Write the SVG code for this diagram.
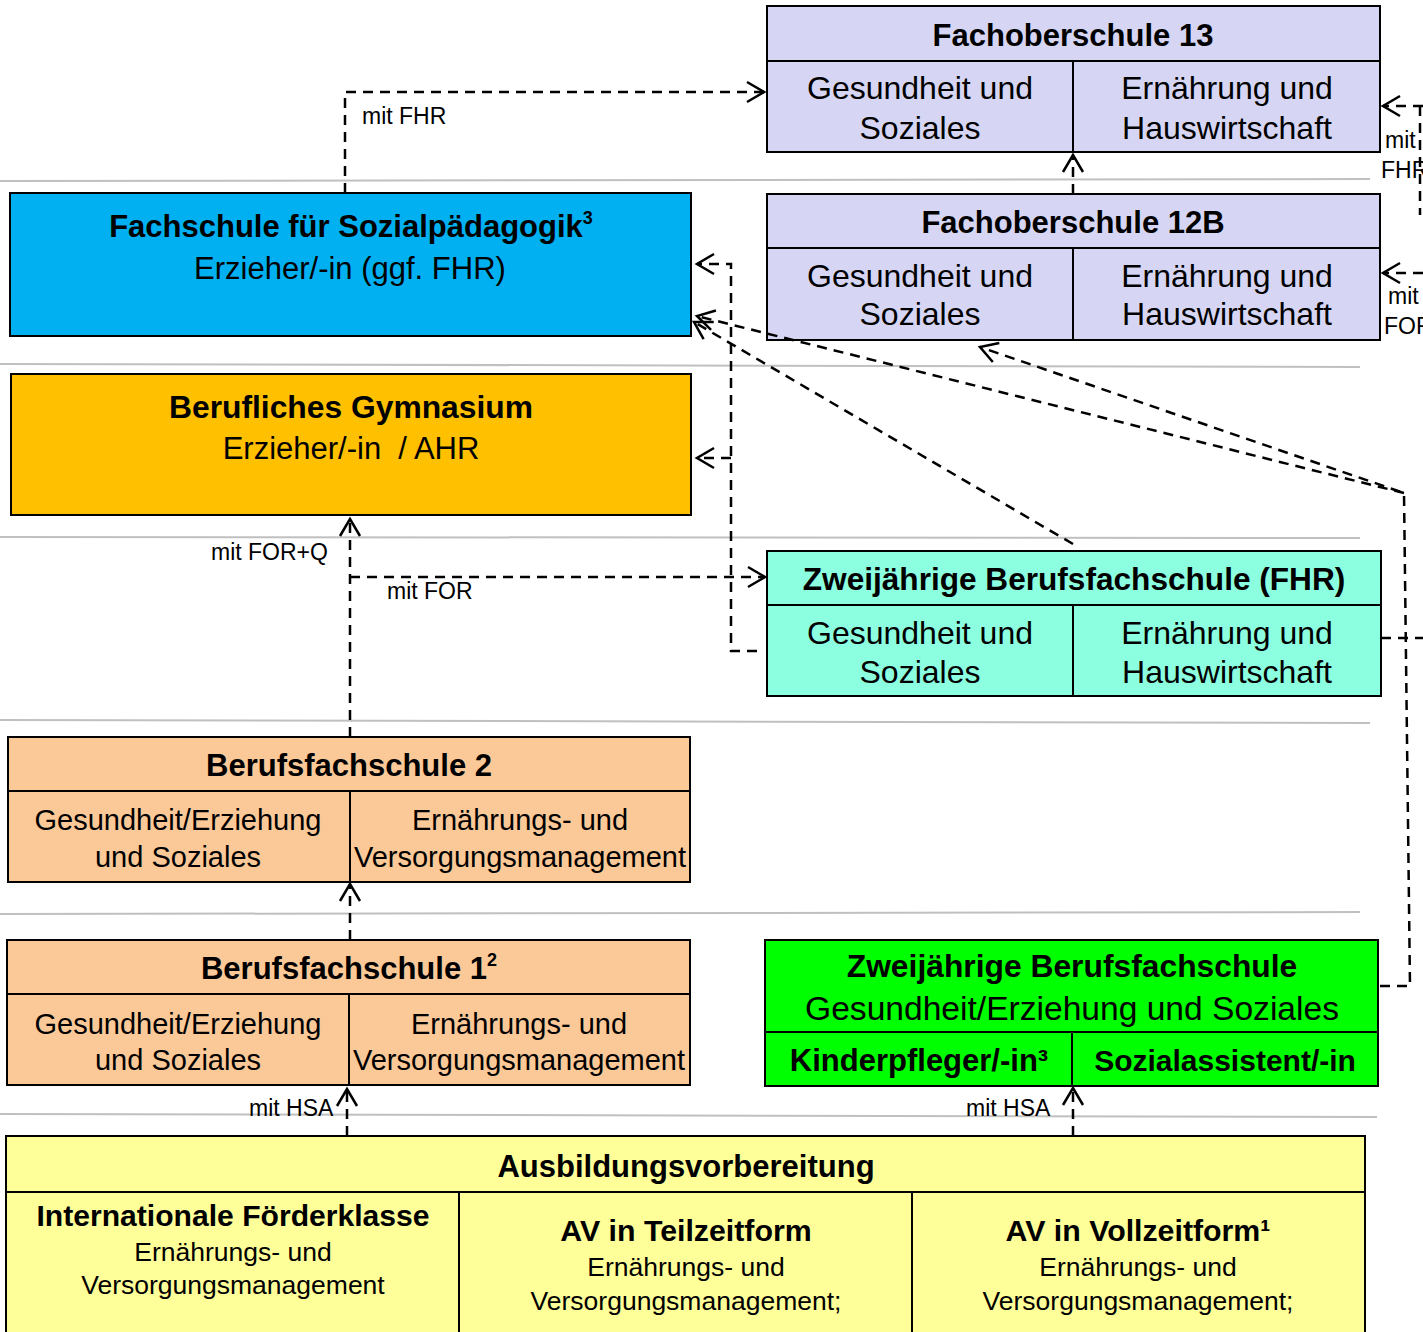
<svg xmlns="http://www.w3.org/2000/svg" width="1423" height="1332" viewBox="0 0 1423 1332">
<style>
text{font-family:"Liberation Sans",Arial,sans-serif;fill:#000}
.t{font-size:31px;font-weight:bold;text-anchor:middle}
.s{font-size:31px;text-anchor:middle}
.f{font-size:32px;text-anchor:middle}
.c{font-size:29px;text-anchor:middle}
.m{font-size:26.5px;text-anchor:middle}
.l{font-size:23px}
.box{stroke:#000;stroke-width:2}
.div{stroke:#000;stroke-width:2;fill:none}
.sep{stroke:#C0C0C0;stroke-width:2;fill:none}
.con{stroke:#000;stroke-width:2.5;fill:none;stroke-dasharray:10 7}
</style>
<defs>
<marker id="ar" markerUnits="userSpaceOnUse" markerWidth="24" markerHeight="26" refX="20" refY="13" orient="auto">
<path d="M3,3 L20,13 L3,23" fill="none" stroke="#000" stroke-width="2.5"/>
</marker>
</defs>
<g id="separators">
<line class="sep" x1="0" y1="181" x2="1370" y2="179"/>
<line class="sep" x1="0" y1="364" x2="1360" y2="367"/>
<line class="sep" x1="0" y1="537" x2="1360" y2="538"/>
<line class="sep" x1="0" y1="720" x2="1370" y2="723"/>
<line class="sep" x1="0" y1="914" x2="1360" y2="912"/>
<line class="sep" x1="0" y1="1114" x2="1377" y2="1117"/>
</g>
<g id="fos13">
<rect class="box" x="767" y="6" width="613" height="146" fill="#D6D6F4"/>
<path class="div" d="M767,61 H1380 M1073,61 V152"/>
<text class="t" x="1073" y="46">Fachoberschule 13</text>
<text class="f" x="920" y="99">Gesundheit und</text>
<text class="f" x="920" y="139">Soziales</text>
<text class="f" x="1227" y="99">Ernährung und</text>
<text class="f" x="1227" y="139">Hauswirtschaft</text>
</g>
<g id="fos12b">
<rect class="box" x="767" y="194" width="613" height="146" fill="#D6D6F4"/>
<path class="div" d="M767,248 H1380 M1073,248 V340"/>
<text class="t" x="1073" y="233">Fachoberschule 12B</text>
<text class="f" x="920" y="287">Gesundheit und</text>
<text class="f" x="920" y="325">Soziales</text>
<text class="f" x="1227" y="287">Ernährung und</text>
<text class="f" x="1227" y="325">Hauswirtschaft</text>
</g>
<g id="fachschule">
<rect class="box" x="10" y="193" width="681" height="143" fill="#00B0F0"/>
<text class="t" x="351" y="237">Fachschule für Sozialpädagogik<tspan font-size="18" dy="-13">3</tspan></text>
<text class="s" x="350" y="279">Erzieher/-in (ggf. FHR)</text>
</g>
<g id="gymnasium">
<rect class="box" x="11" y="374" width="680" height="141" fill="#FFC000"/>
<text class="t" x="351" y="418" style="font-size:31.8px">Berufliches Gymnasium</text>
<text class="s" x="351" y="459" xml:space="preserve">Erzieher/-in  / AHR</text>
</g>
<g id="bfs-fhr">
<rect class="box" x="767" y="551" width="614" height="145" fill="#8CFFE0"/>
<path class="div" d="M767,605 H1381 M1073,605 V696"/>
<text class="t" x="1074" y="590" style="font-size:31.6px">Zweijährige Berufsfachschule (FHR)</text>
<text class="f" x="920" y="644">Gesundheit und</text>
<text class="f" x="920" y="683">Soziales</text>
<text class="f" x="1227" y="644">Ernährung und</text>
<text class="f" x="1227" y="683">Hauswirtschaft</text>
</g>
<g id="bfs2">
<rect class="box" x="8" y="737" width="682" height="145" fill="#FBC998"/>
<path class="div" d="M8,791 H690 M350,791 V882"/>
<text class="t" x="349" y="776">Berufsfachschule 2</text>
<text class="c" x="178" y="830">Gesundheit/Erziehung</text>
<text class="c" x="178" y="867">und Soziales</text>
<text class="c" x="520" y="830">Ernährungs- und</text>
<text class="c" x="520" y="867">Versorgungsmanagement</text>
</g>
<g id="bfs1">
<rect class="box" x="7" y="940" width="683" height="145" fill="#FBC998"/>
<path class="div" d="M7,994 H690 M349,994 V1085"/>
<text class="t" x="349" y="979">Berufsfachschule 1<tspan font-size="18" dy="-13">2</tspan></text>
<text class="c" x="178" y="1034">Gesundheit/Erziehung</text>
<text class="c" x="178" y="1070">und Soziales</text>
<text class="c" x="519" y="1034">Ernährungs- und</text>
<text class="c" x="519" y="1070">Versorgungsmanagement</text>
</g>
<g id="bfs-gesundheit">
<rect class="box" x="765" y="940" width="613" height="146" fill="#00FF00"/>
<path class="div" d="M765,1032 H1378 M1072,1032 V1086"/>
<text class="t" x="1072" y="977" style="font-size:31.8px">Zweijährige Berufsfachschule</text>
<text class="s" x="1072" y="1020" style="font-size:33.6px">Gesundheit/Erziehung und Soziales</text>
<text class="t" x="919" y="1071">Kinderpfleger/-in³</text>
<text class="t" x="1225" y="1071" style="font-size:30px">Sozialassistent/-in</text>
</g>
<g id="av">
<rect class="box" x="6" y="1136" width="1359" height="210" fill="#FFFF99"/>
<path class="div" d="M6,1192 H1365 M459,1192 V1340 M912,1192 V1340"/>
<text class="t" x="686" y="1177">Ausbildungsvorbereitung</text>
<text class="t" x="233" y="1226" style="font-size:30.1px">Internationale Förderklasse</text>
<text class="m" x="233" y="1261">Ernährungs- und</text>
<text class="m" x="233" y="1294">Versorgungsmanagement</text>
<text class="t" x="686" y="1241" style="font-size:30.3px">AV in Teilzeitform</text>
<text class="m" x="686" y="1276">Ernährungs- und</text>
<text class="m" x="686" y="1310">Versorgungsmanagement;</text>
<text class="t" x="1138" y="1241" style="font-size:30.3px">AV in Vollzeitform¹</text>
<text class="m" x="1138" y="1276">Ernährungs- und</text>
<text class="m" x="1138" y="1310">Versorgungsmanagement;</text>
</g>
<g id="connectors">
<path class="con" d="M345,193 V92 H764" marker-end="url(#ar)"/>
<path class="con" d="M1073,194 V155" marker-end="url(#ar)"/>
<path class="con" d="M1423,106 H1383" marker-end="url(#ar)"/>
<path class="con" d="M1420,106 V215"/>
<path class="con" d="M1423,273 H1383" marker-end="url(#ar)"/>
<path class="con" d="M757,651 H731 V264 H697" marker-end="url(#ar)"/>
<path class="con" d="M731,458 H697" marker-end="url(#ar)"/>
<path class="con" d="M1073,544 L694,322" marker-end="url(#ar)"/>
<path class="con" d="M1380,986 H1410 L1404,493 L980,347" marker-end="url(#ar)"/>
<path class="con" d="M1404,493 L697,316" marker-end="url(#ar)"/>
<path class="con" d="M1381,638 H1423"/>
<path class="con" d="M350,737 V519" marker-end="url(#ar)"/>
<path class="con" d="M350,577 H765" marker-end="url(#ar)"/>
<path class="con" d="M350,940 V884" marker-end="url(#ar)"/>
<path class="con" d="M347,1136 V1089" marker-end="url(#ar)"/>
<path class="con" d="M1073,1136 V1088" marker-end="url(#ar)"/>
<text class="l" x="362" y="124">mit FHR</text>
<text class="l" x="211" y="560">mit FOR+Q</text>
<text class="l" x="387" y="599">mit FOR</text>
<text class="l" x="249" y="1116">mit HSA</text>
<text class="l" x="966" y="1116">mit HSA</text>
<text class="l" x="1385" y="148">mit</text>
<text class="l" x="1381" y="178">FHR</text>
<text class="l" x="1388" y="304">mit</text>
<text class="l" x="1384" y="334">FOR</text>
</g>
</svg>
